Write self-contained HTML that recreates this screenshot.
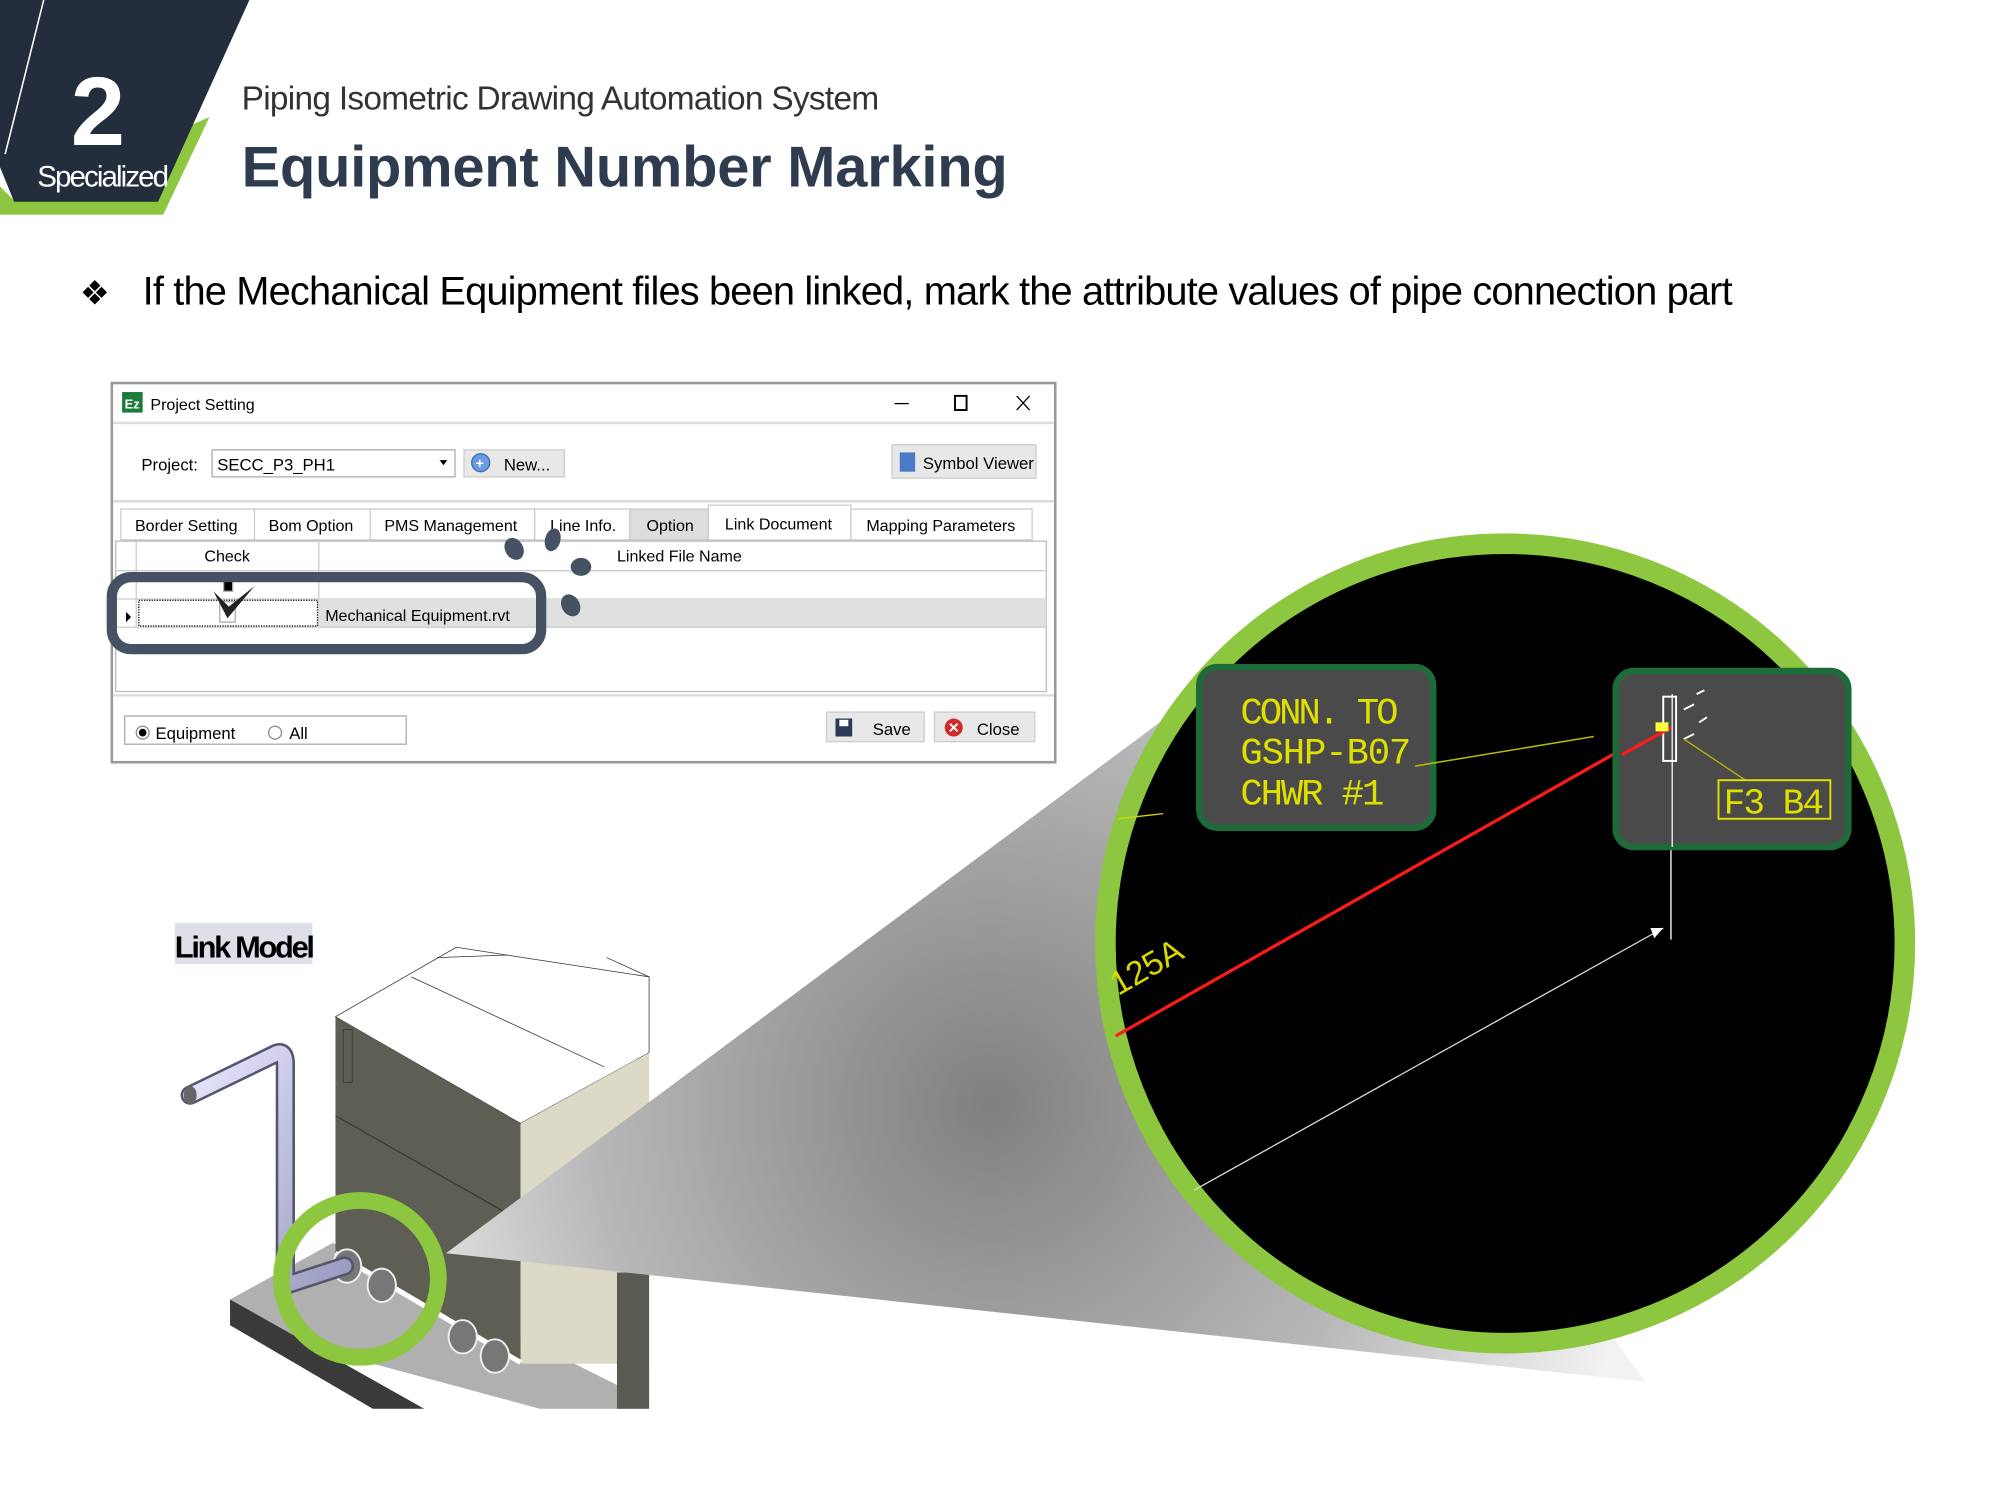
<!DOCTYPE html>
<html><head><meta charset="utf-8"><style>
html,body{margin:0;padding:0;background:#fff;width:2000px;height:1500px;overflow:hidden}
svg{display:block}
text{font-family:"Liberation Sans",sans-serif}
</style></head><body>
<svg width="2000" height="1500" viewBox="0 0 1556 1167" xmlns="http://www.w3.org/2000/svg">
<defs>
<radialGradient id="cone" cx="770" cy="860" r="520" gradientUnits="userSpaceOnUse">
<stop offset="0" stop-color="#808080"/><stop offset="0.6" stop-color="#b8b8b8"/><stop offset="1" stop-color="#f2f2f2"/></radialGradient>
<linearGradient id="pipe" x1="0" y1="0" x2="1" y2="1"><stop offset="0" stop-color="#e8e8ff"/><stop offset="1" stop-color="#9a9ac0"/></linearGradient>
</defs>
<polygon points="0,145 12,157 163,91 127,167 0,167" fill="#8dc63f"/>
<polygon points="0,0 194,0 123,157 11,157 0,130" fill="#232d3b"/>
<line x1="34" y1="0" x2="4" y2="120" stroke="#fff" stroke-width="1.2"/>
<text x="55" y="113" font-size="76" font-weight="bold" fill="#fff">2</text>
<text x="29" y="145" font-size="23" fill="#fff" letter-spacing="-1.5">Specialized</text>
<text x="188" y="85" font-size="26" fill="#333" textLength="496">Piping Isometric Drawing Automation System</text>
<text x="188" y="145" font-size="45" font-weight="bold" fill="#2f3b4e" textLength="596">Equipment Number Marking</text>
<text x="62" y="237" font-size="26" fill="#000">❖</text>
<text x="111" y="237" font-size="31" fill="#000" textLength="1237">If the Mechanical Equipment files been linked, mark the attribute values of pipe connection part</text>

<rect x="87" y="298" width="734" height="295" fill="#fff" stroke="#999" stroke-width="2"/>
<rect x="95" y="305" width="16" height="16" fill="#1e7a3a"/>
<text x="97" y="318" font-size="10" fill="#fff" font-weight="bold">Ez</text>
<text x="117" y="319" font-size="12.5" fill="#000">Project Setting</text>
<line x1="696" y1="314" x2="707" y2="314" stroke="#000"/>
<rect x="743" y="308" width="9" height="11" fill="none" stroke="#000" stroke-width="1.5"/>
<path d="M791 308 L801 319 M801 308 L791 319" stroke="#000"/>
<line x1="88" y1="329" x2="820" y2="329" stroke="#ddd" stroke-width="2"/>
<text x="110" y="366" font-size="13" fill="#000">Project:</text>
<rect x="165" y="350" width="189" height="21" fill="#fff" stroke="#aaa"/>
<text x="169" y="366" font-size="13" fill="#000">SECC_P3_PH1</text>
<path d="M342 358 L348 358 L345 362 Z" fill="#000"/>
<rect x="361" y="350" width="78" height="21" fill="#e8e8e8" stroke="#ccc"/>
<circle cx="374" cy="360" r="7" fill="#6a9ae0" stroke="#3a6ab0"/>
<text x="370" y="364" font-size="11" fill="#fff" font-weight="bold">+</text>
<text x="392" y="366" font-size="13" fill="#000">New...</text>
<rect x="694" y="346" width="112" height="26" fill="#e8e8e8" stroke="#ccc"/>
<rect x="700" y="352" width="12" height="15" fill="#4a7ac8"/>
<text x="718" y="365" font-size="13" fill="#000">Symbol Viewer</text>
<line x1="88" y1="390" x2="820" y2="390" stroke="#ddd" stroke-width="2"/>
<g font-size="12.5" fill="#000">
<rect x="94" y="396" width="104" height="24" fill="#fff" stroke="#ccc"/><text x="105" y="413">Border Setting</text>
<rect x="198" y="396" width="90" height="24" fill="#fff" stroke="#ccc"/><text x="209" y="413">Bom Option</text>
<rect x="288" y="396" width="128" height="24" fill="#fff" stroke="#ccc"/><text x="299" y="413">PMS Management</text>
<rect x="416" y="396" width="74" height="24" fill="#fff" stroke="#ccc"/><text x="428" y="413">Line Info.</text>
<rect x="490" y="396" width="61" height="24" fill="#ddd" stroke="#ccc"/><text x="503" y="413">Option</text>
<rect x="551" y="393" width="111" height="27" fill="#fff" stroke="#ccc"/><text x="564" y="412">Link Document</text>
<rect x="662" y="396" width="141" height="24" fill="#fff" stroke="#ccc"/><text x="674" y="413">Mapping Parameters</text>
</g>
<rect x="90" y="421" width="724" height="117" fill="#fff" stroke="#bbb"/>
<line x1="90" y1="444" x2="814" y2="444" stroke="#ccc"/>
<line x1="106" y1="421" x2="106" y2="488" stroke="#ccc"/>
<line x1="248" y1="421" x2="248" y2="488" stroke="#ccc"/>
<line x1="90" y1="466" x2="814" y2="466" stroke="#ccc"/>
<rect x="248" y="466" width="566" height="22" fill="#e0e0e0"/>
<line x1="90" y1="488" x2="814" y2="488" stroke="#ccc"/>
<rect x="108" y="467" width="139" height="20" fill="none" stroke="#000" stroke-dasharray="1,1"/>
<text x="159" y="437" font-size="12.5" fill="#000">Check</text>
<text x="480" y="437" font-size="12.5" fill="#000">Linked File Name</text>
<text x="253" y="483" font-size="12.5" fill="#000">Mechanical Equipment.rvt</text>
<rect x="174" y="450" width="7" height="10" fill="#000" stroke="#aaa"/>
<rect x="171" y="468" width="12" height="16" fill="none" stroke="#aaa"/>
<path d="M166 460 L177 481 L198 456 L178 472 Z" fill="#222"/>
<path d="M98 476 L102 480 L98 484 Z" fill="#000"/>
<line x1="88" y1="541" x2="820" y2="541" stroke="#ddd" stroke-width="2"/>
<rect x="97" y="557" width="219" height="22" fill="#fff" stroke="#aaa"/>
<circle cx="111" cy="570" r="5" fill="#fff" stroke="#888"/><circle cx="111" cy="570" r="3" fill="#000"/>
<text x="121" y="575" font-size="13" fill="#000">Equipment</text>
<circle cx="214" cy="570" r="5" fill="#fff" stroke="#888"/>
<text x="225" y="575" font-size="13" fill="#000">All</text>
<rect x="643" y="554" width="76" height="23" fill="#e8e8e8" stroke="#ccc"/>
<rect x="650" y="559" width="13" height="14" fill="#2a3a5a"/><rect x="653" y="560" width="7" height="5" fill="#fff"/>
<text x="679" y="572" font-size="13" fill="#000">Save</text>
<rect x="727" y="554" width="78" height="23" fill="#e8e8e8" stroke="#ccc"/>
<circle cx="742" cy="566" r="7" fill="#d02a2a"/><path d="M739 563 L745 569 M745 563 L739 569" stroke="#fff" stroke-width="1.5"/>
<text x="760" y="572" font-size="13" fill="#000">Close</text>
<rect x="87" y="449" width="334" height="56" rx="15" fill="none" stroke="#465264" stroke-width="8"/>
<g fill="#465264">
<ellipse cx="400" cy="427" rx="7" ry="9" transform="rotate(-30 400 427)"/>
<ellipse cx="430" cy="420" rx="6" ry="9" transform="rotate(15 430 420)"/>
<ellipse cx="452" cy="441" rx="8" ry="7"/>
<ellipse cx="444" cy="471" rx="7" ry="9" transform="rotate(-30 444 471)"/>
</g>

<rect x="136" y="718" width="107" height="32" fill="#dde0e8"/>
<text x="136" y="745" font-size="24" font-weight="bold" fill="#000" letter-spacing="-1.8">Link Model</text>
<polygon points="179,1011 259,967 505,1090 505,1096 420,1096 179,1031" fill="#b0b0b0"/>
<polygon points="179,1011 179,1031 290,1096 330,1096" fill="#3a3a3a"/>
<polygon points="261,791 355,737 505,760 505,819 405,874" fill="#fff" stroke="#333" stroke-width="0.6"/>
<line x1="340" y1="745" x2="395" y2="743" stroke="#333" stroke-width="0.6"/>
<line x1="320" y1="760" x2="470" y2="830" stroke="#333" stroke-width="0.6"/>
<line x1="472" y1="745" x2="505" y2="760" stroke="#333" stroke-width="0.6"/>
<polygon points="261,791 405,874 405,1061 261,975" fill="#5e5e55"/>
<line x1="261" y1="868" x2="405" y2="950" stroke="#333" stroke-width="0.8"/>
<rect x="267" y="801" width="7" height="41" fill="none" stroke="#333" stroke-width="0.6"/>
<polygon points="405,874 505,819 505,1061 405,1061" fill="#dcdac6"/>
<rect x="480" y="990" width="25" height="106" fill="#5a5a52"/>
<line x1="261" y1="975" x2="405" y2="1060" stroke="#fff" stroke-width="4"/>
<g fill="#777" stroke="#eee" stroke-width="1.5">
<ellipse cx="270" cy="985" rx="11" ry="13"/><ellipse cx="297" cy="1000" rx="11" ry="13"/>
<ellipse cx="360" cy="1040" rx="11" ry="13"/><ellipse cx="385" cy="1055" rx="11" ry="13"/>
</g>
<g stroke-linecap="round" fill="none">
<path d="M148 852 L214 820 Q222 816 222 828 L222 1000 L268 985" stroke="#55556e" stroke-width="15"/>
<path d="M148 852 L214 820 Q222 816 222 828 L222 1000 L268 985" stroke="url(#pipe)" stroke-width="11"/>
</g>
<ellipse cx="148" cy="852" rx="5" ry="7" fill="#666"/>
<polygon points="347,975 905,560 1280,1075" fill="url(#cone)"/>
<circle cx="280" cy="995" r="61" fill="none" stroke="#8dc63f" stroke-width="13"/>
<circle cx="1171" cy="734" r="311" fill="#000" stroke="#8dc63f" stroke-width="16"/>
<line x1="868" y1="806" x2="1292" y2="566" stroke="#ff1a1a" stroke-width="2.5"/>
<line x1="929" y1="926" x2="1294" y2="722" stroke="#ddd" stroke-width="1"/>
<path d="M1294 722 L1284 722 L1287 730 Z" fill="#fff"/>
<line x1="1300" y1="538" x2="1300" y2="731" stroke="#ddd" stroke-width="1.2"/>
<text x="870" y="775" font-size="26" fill="#d8d800" transform="rotate(-30 870 775)">125A</text>
<line x1="870" y1="637" x2="905" y2="633" stroke="#d8d800" stroke-width="1"/>
<rect x="933" y="519" width="182" height="125" rx="14" fill="#4a4a4a" stroke="#1e6b3a" stroke-width="5"/>
<g style="font-family:'Liberation Mono',monospace" font-size="29" fill="#e0e000">
<text x="965" y="563" style="font-family:'Liberation Mono',monospace" textLength="123">CONN. TO</text>
<text x="965" y="594" style="font-family:'Liberation Mono',monospace" textLength="133">GSHP-B07</text>
<text x="965" y="626" style="font-family:'Liberation Mono',monospace" textLength="112">CHWR #1</text>
</g>
<line x1="1101" y1="596" x2="1240" y2="573" stroke="#b8b800" stroke-width="1.2"/>
<rect x="1257" y="522" width="181" height="137" rx="14" fill="#4a4a4a" stroke="#1e6b3a" stroke-width="5"/>
<line x1="1301" y1="540" x2="1301" y2="659" stroke="#ddd" stroke-width="1.2"/>
<rect x="1294" y="542" width="10" height="50" fill="none" stroke="#fff" stroke-width="1.5"/>
<path d="M1310 552 L1318 548 M1320 540 L1326 537 M1310 575 L1318 571 M1322 562 L1328 558" stroke="#fff" stroke-width="1.5"/>
<line x1="1262" y1="587" x2="1300" y2="566" stroke="#ff1a1a" stroke-width="2.5"/>
<rect x="1288" y="562" width="10" height="7" fill="#ffff40"/>
<line x1="1310" y1="575" x2="1358" y2="607" stroke="#b8b800" stroke-width="1"/>
<rect x="1337" y="607" width="87" height="30" fill="none" stroke="#e0e000" stroke-width="1.5"/>
<text x="1341" y="633" style="font-family:'Liberation Mono',monospace" font-size="28" fill="#e0e000" textLength="78">F3 B4</text>
</svg>
</body></html>
